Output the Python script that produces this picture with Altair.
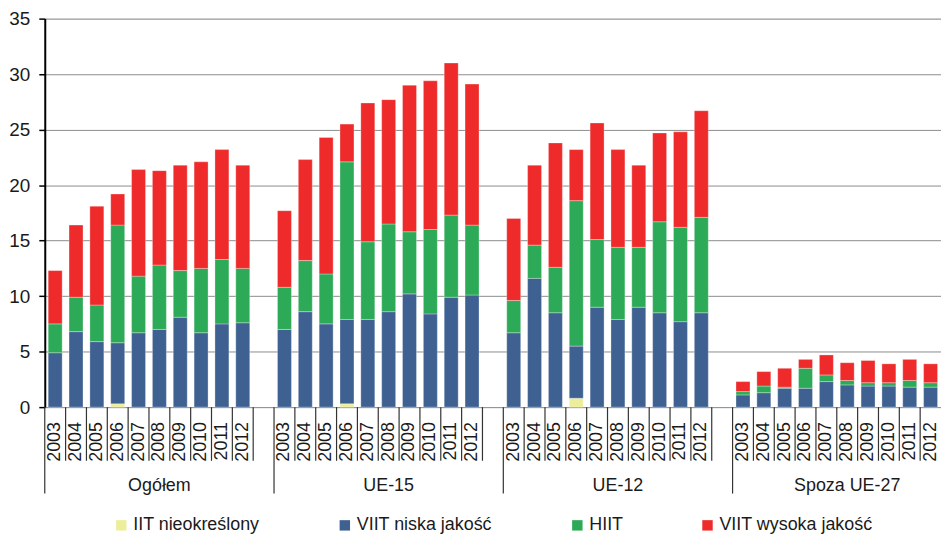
import altair as alt
import pandas as pd

groups = ["Ogółem", "UE-15", "UE-12", "Spoza UE-27"]
years = ["2003", "2004", "2005", "2006", "2007", "2008", "2009", "2010", "2011", "2012"]
series = ["IIT nieokreślony", "VIIT niska jakość", "HIIT", "VIIT wysoka jakość"]
colors = ["#EDEE9C", "#3E6191", "#2DAA57", "#EE2A2A"]

# values per group (Ogółem, UE-15, UE-12, Spoza UE-27), years 2003-2012
iit_nieokreslony = [
    [0, 0, 0, 0.3, 0, 0, 0, 0, 0, 0],
    [0, 0, 0, 0.3, 0, 0, 0, 0, 0, 0],
    [0, 0, 0, 0.8, 0, 0, 0, 0, 0, 0],
    [0, 0, 0, 0, 0, 0, 0, 0, 0, 0],
]
viit_niska = [
    [4.9, 6.8, 5.9, 5.5, 6.7, 7.0, 8.1, 6.7, 7.5, 7.6],
    [7.0, 8.6, 7.5, 7.6, 7.9, 8.6, 10.2, 8.4, 9.9, 10.1],
    [6.7, 11.6, 8.5, 4.7, 9.0, 7.9, 9.0, 8.5, 7.7, 8.5],
    [1.1, 1.3, 1.7, 1.7, 2.3, 2.0, 1.9, 1.9, 1.8, 1.8],
]
hiit = [
    [2.6, 3.1, 3.3, 10.6, 5.1, 5.8, 4.2, 5.8, 5.8, 4.9],
    [3.8, 4.6, 4.5, 14.2, 7.0, 7.9, 5.6, 7.6, 7.4, 6.3],
    [2.9, 3.0, 4.1, 13.1, 6.1, 6.5, 5.4, 8.2, 8.5, 8.6],
    [0.3, 0.6, 0.1, 1.8, 0.6, 0.4, 0.3, 0.3, 0.6, 0.4],
]
viit_wysoka = [
    [4.8, 6.5, 8.9, 2.8, 9.6, 8.5, 9.5, 9.6, 9.9, 9.3],
    [6.9, 9.1, 12.3, 3.4, 12.5, 11.2, 13.2, 13.4, 13.7, 12.7],
    [7.4, 7.2, 11.2, 4.6, 10.5, 8.8, 7.4, 8.0, 8.6, 9.6],
    [0.9, 1.3, 1.7, 0.8, 1.8, 1.6, 2.0, 1.7, 1.9, 1.7],
]
all_series = [iit_nieokreslony, viit_niska, hiit, viit_wysoka]

# slots: 10 years per group + an empty slot between groups
slots = []
group_starts = []
for gi, g in enumerate(groups):
    group_starts.append(f"{g}|{years[0]}")
    for y in years:
        slots.append(f"{g}|{y}")
    if gi < len(groups) - 1:
        slots.append(f"{g}|gap")

rows = []
for si, s in enumerate(series):
    for gi, g in enumerate(groups):
        for yi, y in enumerate(years):
            rows.append({"slot": f"{g}|{y}", "series": s, "order": si,
                         "value": all_series[si][gi][yi]})
df = pd.DataFrame(rows)
df = df[df["value"] > 0]

year_df = pd.DataFrame([{"slot": f"{g}|{y}", "year": y} for g in groups for y in years])
group_df = pd.DataFrame([{"slot": f"{g}|2008", "group": g} for g in groups])
short_sep = pd.DataFrame({"slot": [s for s in slots if s not in group_starts]})
long_sep = pd.DataFrame({"slot": group_starts})

W = 902
H = 391
FONT = "Liberation Sans"
xscale = alt.Scale(type="band", domain=slots, paddingInner=0, paddingOuter=0)

bars = alt.Chart(df).mark_bar(
    width=alt.RelativeBandSize(0.67), stroke="white", strokeWidth=0.6, strokeOpacity=0.5
).encode(
    x=alt.X("slot:N", scale=xscale,
            axis=alt.Axis(title=None, labels=False, ticks=False, grid=False,
                          domainColor="black", domainWidth=2)),
    y=alt.Y("value:Q", stack="zero",
            scale=alt.Scale(domain=[0, 35], nice=False),
            axis=alt.Axis(title=None, values=list(range(0, 36, 5)), tickSize=6,
                          tickColor="black", tickWidth=1.5, labelPadding=9,
                          labelFontSize=19, labelColor="#1a1a1a", labelFont=FONT,
                          domainColor="black", domainWidth=2,
                          gridColor="#8c8c8c", gridWidth=1)),
    color=alt.Color("series:N", scale=alt.Scale(domain=series, range=colors),
                    legend=alt.Legend(title=None, orient="none", legendX=68, legendY=501,
                                      direction="horizontal", symbolType="square",
                                      symbolSize=110, symbolStrokeWidth=0,
                                      labelFontSize=18, labelColor="#1a1a1a", labelFont=FONT,
                                      columnPadding=76, labelOffset=3, padding=0)),
    order=alt.Order("order:Q", sort="ascending"),
)

year_labels = alt.Chart(year_df).mark_text(
    angle=270, align="right", baseline="middle", fontSize=18, font=FONT, color="#1a1a1a"
).encode(
    x=alt.X("slot:N", scale=xscale, axis=None),
    y=alt.value(H + 15),
    text="year:N",
)

group_labels = alt.Chart(group_df).mark_text(
    align="center", baseline="middle", fontSize=18, font=FONT, color="#1a1a1a"
).encode(
    x=alt.X("slot:N", scale=xscale, axis=None),
    y=alt.value(H + 79),
    text="group:N",
)

short_rules = alt.Chart(short_sep).mark_rule(color="#333", strokeWidth=1.2).encode(
    x=alt.X("slot:N", scale=xscale, axis=None, bandPosition=0),
    y=alt.value(H),
    y2=alt.value(H + 54),
)

long_rules = alt.Chart(long_sep).mark_rule(color="#333", strokeWidth=1.2).encode(
    x=alt.X("slot:N", scale=xscale, axis=None, bandPosition=0),
    y=alt.value(H),
    y2=alt.value(H + 87),
)

chart = alt.layer(short_rules, long_rules, bars, year_labels, group_labels).properties(
    width=W, height=H,
    autosize=alt.AutoSizeParams(type="none"),
    padding={"left": 37, "top": 9, "right": 0, "bottom": 127},
).configure_view(stroke=None).configure(font=FONT)

chart.save("out.html", embed_options={"renderer": "svg", "actions": False})
